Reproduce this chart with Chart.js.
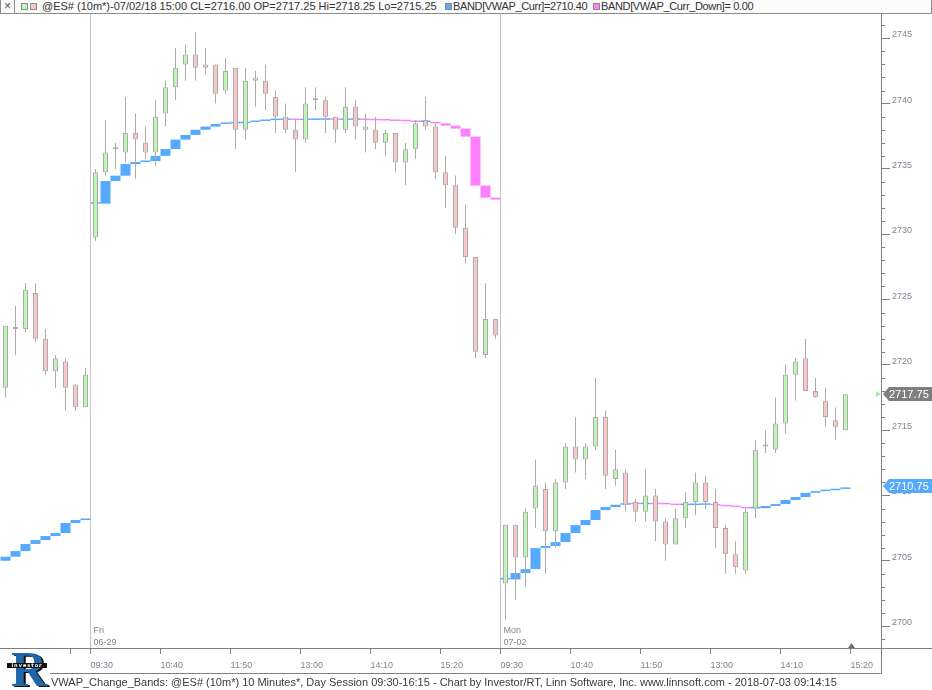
<!DOCTYPE html>
<html>
<head>
<meta charset="utf-8">
<script src="https://cdn.jsdelivr.net/npm/chart.js@4.4.1/dist/chart.umd.min.js"></script>
<style>
  html, body { margin: 0; padding: 0; background: #fff; }
  #marco { position: relative; width: 932px; height: 690px; overflow: hidden; font-family: "Liberation Sans", Arial, sans-serif; }
  #grafico { position: absolute; left: 0; top: 0; }
  #cabecera { position: absolute; left: 0; top: 0; width: 930px; height: 13px; border: 1px solid #8c8c8c; border-top: none; background: #fbfbfb; }
  #cabecera span { position: absolute; top: 0; font-size: 11px; line-height: 13px; color: #333; white-space: nowrap; }
  #cabecera .cuadro { top: 3px; width: 5px; height: 5px; border: 1px solid #8a8a8a; }
  #cabecera .apretado { letter-spacing: -0.35px; }
  #cerrar { left: 0; width: 13px; height: 13px; border-right: 1px solid #8c8c8c; text-align: center; color: #555 !important; font-size: 12px !important; }
  #pie { position: absolute; left: 51px; top: 676px; font-size: 11px; line-height: 13px; color: #3a3a3a; white-space: nowrap; }
  #logo { position: absolute; left: 6px; top: 648px; width: 42px; height: 42px; }
  #logo .r { position: absolute; left: 5px; top: -8px; font: bold 50px "Liberation Serif", serif; color: #1f66ab; text-shadow: 2px 1px 0 #111; }
  #logo .cinta { position: absolute; left: 1px; top: 15px; width: 40px; height: 5px; background: #111; color: #fff; font: bold 5px "DejaVu Sans", sans-serif; line-height: 5px; text-align: center; letter-spacing: 1px; }
</style>
</head>
<body>
<div id="marco">
  <canvas id="grafico" width="932" height="690"></canvas>
  <div id="cabecera">
    <span id="cerrar">&#215;</span>
    <span class="cuadro" style="left:20px;background:#bdf5b5"></span>
    <span class="cuadro" style="left:29px;background:#f8c6c6"></span>
    <span style="left:41px">@ES# (10m*)-07/02/18 15:00 CL=2716.00 OP=2717.25 Hi=2718.25 Lo=2715.25</span>
    <span class="cuadro" style="left:444px;background:#55aaff"></span>
    <span class="apretado" style="left:452px">BAND[VWAP_Curr]=2710.40</span>
    <span class="cuadro" style="left:592px;background:#ff80ff"></span>
    <span class="apretado" style="left:600px">BAND[VWAP_Curr_Down]= 0.00</span>
  </div>
  <div id="logo"><span class="r">R</span><span class="cinta">investor</span></div>
  <div id="pie">VWAP_Change_Bands: @ES# (10m*) 10 Minutes*, Day Session 09:30-16:15 - Chart by Investor/RT, Linn Software, Inc. www.linnsoft.com - 2018-07-03 09:14:15</div>
</div>
<script>
// barras de 10 minutos: jueves (ultimas 9), viernes 06-29 (41), lunes 07-02 (35)
const primeraBarra = -9;
const iniciosSesion = [0, 41];
const etiquetasSesion = [["Fri", "06-29"], ["Mon", "07-02"]];

const aperturas = [
  2718.25, 2722.75, 2722.75, 2725.5, 2722, 2719.5, 2720.25, 2718.5, 2716.75,
  2729.75, 2734.75, 2736.5, 2736.25, 2737.75, 2737, 2736.25, 2739.25, 2741.25, 2743, 2743.75,
  2743, 2743, 2741, 2742.75, 2738, 2742, 2741.75, 2740.5, 2739, 2738,
  2737.25, 2740.25, 2740.25, 2739, 2738, 2739.75, 2738.25, 2738, 2737, 2737.75,
  2735.5, 2736.5, 2738.75, 2738.25, 2734.75, 2733.75, 2730.5, 2728.25, 2720.75, 2723.5,
  2703.25, 2707.75, 2705.25, 2709, 2710.5, 2707.25, 2711, 2713.75, 2712.75, 2713.75,
  2716, 2711.25, 2711.75, 2709.5, 2708.75, 2710, 2708, 2706.25, 2708.25, 2709.5,
  2711, 2709.5, 2707.5, 2705.5, 2704.25, 2709, 2713.75, 2713.5, 2715.5, 2719.25,
  2720.5, 2718, 2717.25, 2715.75, 2715
];
const maximos = [
  2723, 2724.5, 2726.25, 2726.25, 2722.75, 2720.75, 2720.5, 2718.5, 2719.75,
  2735, 2738.75, 2737, 2740.5, 2739.25, 2738.25, 2740.25, 2741.75, 2744.25, 2744.5, 2745.5,
  2744.25, 2743, 2743.5, 2742.75, 2742.75, 2742.5, 2743, 2741, 2740, 2738.75,
  2741.25, 2741.25, 2740.5, 2739, 2741.25, 2740.25, 2739.25, 2739, 2738, 2737.75,
  2737, 2738.75, 2740.5, 2738.5, 2736, 2734.5, 2732.25, 2728.25, 2726.25, 2723.5,
  2707.75, 2707.75, 2709, 2712.75, 2711, 2711.25, 2714, 2716, 2714, 2719,
  2716.5, 2713.5, 2712, 2709.75, 2712, 2710.5, 2708.25, 2709, 2710.25, 2711.75,
  2711.5, 2710.5, 2707.75, 2706.5, 2709, 2714.25, 2715, 2717.5, 2720, 2720.5,
  2722, 2719, 2718.25, 2716.75, 2717.75
];
const minimos = [
  2717.5, 2720.75, 2722.5, 2721.75, 2719.25, 2718.25, 2716.5, 2716.5, 2716.75,
  2729.5, 2734.5, 2735, 2735.5, 2734.25, 2735.75, 2735.25, 2738.25, 2740.25, 2741.75, 2741.75,
  2742.25, 2740, 2740.75, 2736.5, 2737.25, 2739.75, 2739.5, 2737.75, 2737.75, 2734.75,
  2737, 2739.5, 2737.75, 2737, 2737.75, 2737.25, 2736.25, 2736.5, 2736, 2734.75,
  2733.75, 2735.75, 2738, 2734.25, 2732, 2730, 2727.75, 2720.5, 2720.5, 2722,
  2700.5, 2702, 2703, 2707.5, 2704, 2706, 2710.5, 2711.75, 2711.25, 2713.5,
  2710.5, 2710.75, 2708.75, 2708, 2708, 2706.5, 2705, 2706.25, 2707.5, 2708.5,
  2709, 2706, 2704, 2704, 2704, 2708.25, 2713.25, 2713.25, 2714.75, 2717.25,
  2718, 2717.5, 2715.25, 2714.25, 2715
];
const cierres = [
  2723, 2722.75, 2725.75, 2722, 2719.5, 2720.5, 2718.25, 2716.75, 2719.25,
  2734.75, 2736.25, 2736.5, 2737.75, 2737.25, 2736.25, 2739, 2741.25, 2742.75, 2743.75, 2742.75,
  2742.75, 2740.75, 2742.5, 2738, 2741.75, 2741.75, 2740.75, 2739, 2738, 2737.25,
  2740, 2740.25, 2739, 2738, 2739.75, 2738.25, 2738, 2737, 2737.75, 2735.5,
  2736.5, 2738.5, 2738.25, 2734.75, 2733.75, 2730.5, 2728.25, 2721, 2723.5, 2722.25,
  2707.75, 2705.25, 2708.75, 2710.75, 2707.25, 2711, 2713.75, 2712.75, 2713.75, 2716,
  2711.5, 2712, 2709.25, 2708.75, 2710, 2708, 2706.25, 2708.25, 2709.5, 2711,
  2709.5, 2707.5, 2705.5, 2704.5, 2708.75, 2713.5, 2713.75, 2715.5, 2719.25, 2720.25,
  2718, 2717.5, 2716, 2715.25, 2717.75
];
const vwapAnterior = 2705.0;
const vwap = [
  2705.31, 2705.74, 2706.28, 2706.58, 2706.89, 2707.12, 2707.89, 2708.12, 2708.22,
  2732.34, 2734.07, 2734.48, 2735.37, 2735.53, 2735.6, 2736.0, 2736.52, 2737.24, 2737.6, 2738.0,
  2738.24, 2738.44, 2738.49, 2738.5, 2738.59, 2738.67, 2738.74, 2738.75, 2738.76, 2738.74,
  2738.75, 2738.76, 2738.77, 2738.75, 2738.76, 2738.77, 2738.74, 2738.72, 2738.71, 2738.67,
  2738.65, 2738.59, 2738.6, 2738.49, 2738.31, 2738.08, 2737.47, 2733.72, 2732.8, 2732.65,
  2703.57, 2704.06, 2704.36, 2705.97, 2706.13, 2706.43, 2707.12, 2707.73, 2708.12, 2708.88,
  2709.11, 2709.29, 2709.34, 2709.33, 2709.34, 2709.33, 2709.32, 2709.26, 2709.27, 2709.28,
  2709.29, 2709.24, 2709.17, 2709.11, 2709.01, 2709.03, 2709.19, 2709.34, 2709.65, 2709.88,
  2710.2, 2710.33, 2710.4, 2710.5, 2710.6
];
const ultimoCierre = 2717.75;
const etiquetaVwap = 2710.75;

const posicionesHora = [-2.5, -0.5, 6.5, 13.5, 20.5, 27.5, 34.5, 40.5, 47.5, 54.5, 61.5, 68.5, 75.5];
const etiquetasHora = ["", "09:30", "10:40", "11:50", "13:00", "14:10", "15:20", "09:30", "10:40", "11:50", "13:00", "14:10", "15:20"];
const marcasPrecio = [2700, 2705, 2710, 2715, 2720, 2725, 2730, 2735, 2740, 2745];
const barraActual = 75.5;

const verde = "#bdf5b5";
const rosa = "#f8c6c6";
const gris = "#ababab";
const azulBanda = "#55aaff";
const rosaBanda = "#ff80ff";
const colorEje = "#808080";
const colorTexto = "#7d8590";
const fuente = "Liberation Sans";

let cuerpos = [];
let mechas = [];
let coloresCuerpo = [];
let banda = [];
let coloresBanda = [];

function armarVelas() {
  for (let k = 0; k < cierres.length; k++) {
    const x = primeraBarra + k;
    mechas.push({ x: x, y: [minimos[k], maximos[k]] });
    cuerpos.push({ x: x, y: [aperturas[k], cierres[k]] });
    coloresCuerpo.push(cierres[k] >= aperturas[k] ? verde : rosa);
  }
}

function armarBanda() {
  for (let k = 0; k < vwap.length; k++) {
    const x = primeraBarra + k;
    let previo = k === 0 ? vwapAnterior : vwap[k - 1];
    if (iniciosSesion.includes(x)) previo = vwap[k];
    banda.push({ x: x, y: [previo, vwap[k]] });
    coloresBanda.push(vwap[k] < previo ? rosaBanda : azulBanda);
  }
}

function etiquetaPrecio(ctx, y, valor, fondo, area) {
  const py = Math.round(y.getPixelForValue(valor));
  ctx.fillStyle = fondo;
  ctx.beginPath();
  ctx.moveTo(area.right + 2, py);
  ctx.lineTo(area.right + 8, py - 7);
  ctx.lineTo(932, py - 7);
  ctx.lineTo(932, py + 7);
  ctx.lineTo(area.right + 8, py + 7);
  ctx.closePath();
  ctx.fill();
  ctx.fillStyle = "#fff";
  ctx.font = "11px " + fuente;
  ctx.textBaseline = "middle";
  ctx.textAlign = "left";
  ctx.fillText(valor.toFixed(2), area.right + 8, py + 0.5);
}

const decorado = {
  id: "decorado",
  afterDraw(chart) {
    const { ctx, chartArea: area, scales: { x, y } } = chart;
    ctx.save();
    ctx.strokeStyle = colorEje;
    ctx.lineWidth = 1;
    ctx.beginPath();
    // marcas menores del eje de precios
    for (let p = Math.ceil(y.min); p <= y.max; p++) {
      if (p % 5 === 0) continue;
      const py = Math.round(y.getPixelForValue(p)) + 0.5;
      ctx.moveTo(area.right, py);
      ctx.lineTo(area.right + 4, py);
    }
    // caja de las horas
    ctx.moveTo(50, 673.5);
    ctx.lineTo(area.right + 0.5, 673.5);
    ctx.moveTo(area.right + 0.5, area.bottom);
    ctx.lineTo(area.right + 0.5, 673.5);
    ctx.moveTo(area.right, area.bottom + 0.5);
    ctx.lineTo(932, area.bottom + 0.5);
    ctx.stroke();

    // dia de cada sesion
    ctx.fillStyle = colorTexto;
    ctx.font = "9px " + fuente;
    ctx.textAlign = "left";
    ctx.textBaseline = "middle";
    iniciosSesion.forEach((inicio, i) => {
      const px = x.getPixelForValue(inicio - 0.5) + 3;
      ctx.fillText(etiquetasSesion[i][0], px, area.bottom - 17);
      ctx.fillText(etiquetasSesion[i][1], px, area.bottom - 5);
    });

    // marca de la barra actual
    const bx = Math.round(x.getPixelForValue(barraActual)) + 0.5;
    ctx.fillStyle = "#6e6e6e";
    ctx.beginPath();
    ctx.moveTo(bx - 3.5, area.bottom);
    ctx.lineTo(bx + 3.5, area.bottom);
    ctx.lineTo(bx, area.bottom - 5);
    ctx.closePath();
    ctx.fill();

    // triangulo verde del ultimo precio
    const cy = Math.round(y.getPixelForValue(ultimoCierre));
    ctx.fillStyle = "#a6eca6";
    ctx.beginPath();
    ctx.moveTo(area.right - 5, cy - 3);
    ctx.lineTo(area.right - 5, cy + 3);
    ctx.lineTo(area.right, cy);
    ctx.closePath();
    ctx.fill();

    etiquetaPrecio(ctx, y, ultimoCierre, "#7f7f7f", area);
    etiquetaPrecio(ctx, y, etiquetaVwap, azulBanda, area);
    ctx.restore();
  }
};

function graficarVelas() {
  armarVelas();
  armarBanda();
  new Chart(document.getElementById("grafico"), {
    type: "bar",
    data: {
      datasets: [
        {
          label: "cuerpos",
          data: cuerpos,
          backgroundColor: coloresCuerpo,
          borderColor: gris,
          borderWidth: 1,
          borderSkipped: false,
          barThickness: 5,
          minBarLength: 2,
          inflateAmount: 0,
          grouped: false,
          order: 1
        },
        {
          label: "mechas",
          data: mechas,
          backgroundColor: gris,
          borderWidth: 0,
          barThickness: 1,
          inflateAmount: 0,
          grouped: false,
          order: 2
        },
        {
          label: "banda",
          data: banda,
          backgroundColor: coloresBanda,
          borderWidth: 0,
          barThickness: 10,
          minBarLength: 1.5,
          inflateAmount: 0,
          grouped: false,
          order: 3
        }
      ]
    },
    options: {
      responsive: false,
      animation: false,
      devicePixelRatio: 1,
      layout: { padding: { top: 14, left: 0, right: 0, bottom: 0 } },
      plugins: { legend: { display: false }, tooltip: { enabled: false } },
      scales: {
        x: {
          type: "linear",
          min: -9.55,
          max: 78.55,
          offset: false,
          afterBuildTicks: (s) => { s.ticks = posicionesHora.map(v => ({ value: v })); },
          afterFit: (s) => { s.height = 42; },
          grid: {
            offset: false,
            color: (c) => (c.tick && iniciosSesion.includes(c.tick.value + 0.5) ? "#c4c4c4" : "rgba(0,0,0,0)"),
            tickColor: colorEje,
            tickLength: 6
          },
          border: { color: colorEje },
          ticks: {
            autoSkip: false,
            maxRotation: 0,
            align: "start",
            padding: 6,
            color: colorTexto,
            font: { family: fuente, size: 9 },
            callback: (v, i) => etiquetasHora[i]
          }
        },
        y: {
          position: "right",
          min: 2698.32,
          max: 2746.86,
          afterBuildTicks: (s) => { s.ticks = marcasPrecio.map(v => ({ value: v })); },
          afterFit: (s) => { s.width = 51; },
          grid: { drawOnChartArea: false, tickLength: 9, tickColor: colorEje },
          border: { color: colorEje },
          ticks: {
            padding: 2,
            labelOffset: -3.5,
            color: colorTexto,
            font: { family: fuente, size: 9 },
            callback: (v) => String(v)
          }
        }
      }
    },
    plugins: [decorado]
  });
}

graficarVelas();
</script>
</body>
</html>
